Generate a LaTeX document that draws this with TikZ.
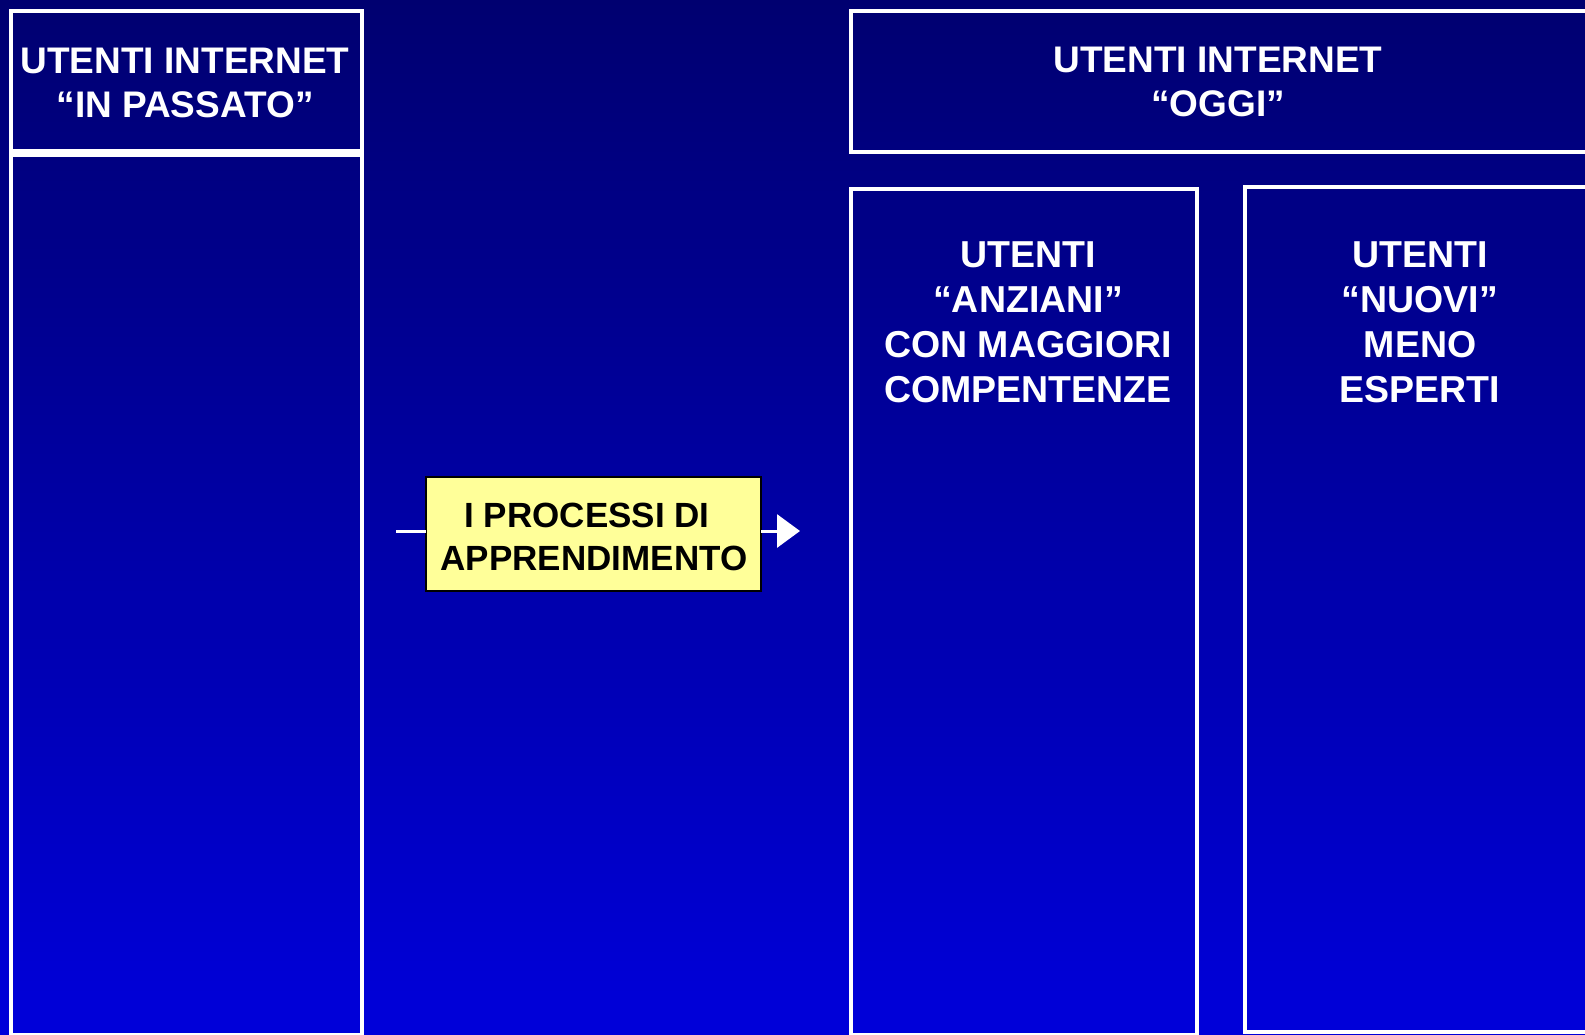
\documentclass[tikz,border=0pt]{standalone}
\usepackage{fontspec}
\setmainfont{Liberation Sans}
\usetikzlibrary{arrows.meta}
\definecolor{bgtop}{RGB}{0,0,112}
\definecolor{bgbot}{RGB}{0,0,218}
\definecolor{yel}{RGB}{255,255,153}
\tikzset{
  frame/.style={draw=white, line width=4pt, rectangle, anchor=north west, inner sep=0pt, outer sep=0pt},
  wtext/.style={text=white, font=\fontsize{37pt}{44pt}\selectfont\bfseries, align=center, inner sep=0pt},
  ctext/.style={text=white, font=\fontsize{37.5pt}{45pt}\selectfont\bfseries, align=center, inner sep=0pt},
  procbox/.style={draw=black, line width=2pt, fill=yel, rectangle, inner sep=0pt, outer sep=0pt,
    minimum width=335pt, minimum height=114pt},
  ptext/.style={text=black, font=\fontsize{35pt}{43pt}\selectfont\bfseries, align=center, inner sep=0pt},
  conn/.style={draw=white, line width=3pt}
}
\begin{document}
\begin{tikzpicture}[x=1pt,y=-1pt]
\useasboundingbox (0,0) rectangle (1585,1034);
\shade[top color=bgtop, bottom color=bgbot] (0,0) rectangle (1585,1034);
% left column
\node[frame, minimum width=351pt, minimum height=140pt] (lhead) at (11,11) {};
\node[frame, minimum width=351pt, minimum height=880pt] (lcol) at (11,155) {};
\node[wtext] (lheadtxt) at (185,83) {UTENTI INTERNET\\“IN PASSATO”};
% right header
\node[frame, minimum width=760pt, minimum height=141pt] (rhead) at (851,11) {};
\node[wtext] (rheadtxt) at (1218,82) {UTENTI INTERNET\\“OGGI”};
% middle column
\node[frame, minimum width=346pt, minimum height=846pt] (mcol) at (851,189) {};
\node[ctext, anchor=north] (mcoltxt) at (1028,241) {UTENTI\\“ANZIANI”\\CON MAGGIORI\\COMPENTENZE};
% right column
\node[frame, minimum width=360pt, minimum height=845pt] (rcol) at (1245,187) {};
\node[ctext, anchor=north] (rcoltxt) at (1420,241) {UTENTI\\“NUOVI”\\MENO\\ESPERTI};
% process box
\node[procbox] (proc) at (593.5,534) {};
\node[ptext] (proctxt) at (594,537) {I PROCESSI DI\kern14pt\\APPRENDIMENTO};
\coordinate (astart) at (396,531);
\coordinate (aend) at (800,531);
\draw[conn] (astart) -- (astart -| proc.west);
\draw[conn, -{Triangle[length=23pt,width=33pt]}] (aend -| proc.east) -- (aend);
\end{tikzpicture}
\end{document}
